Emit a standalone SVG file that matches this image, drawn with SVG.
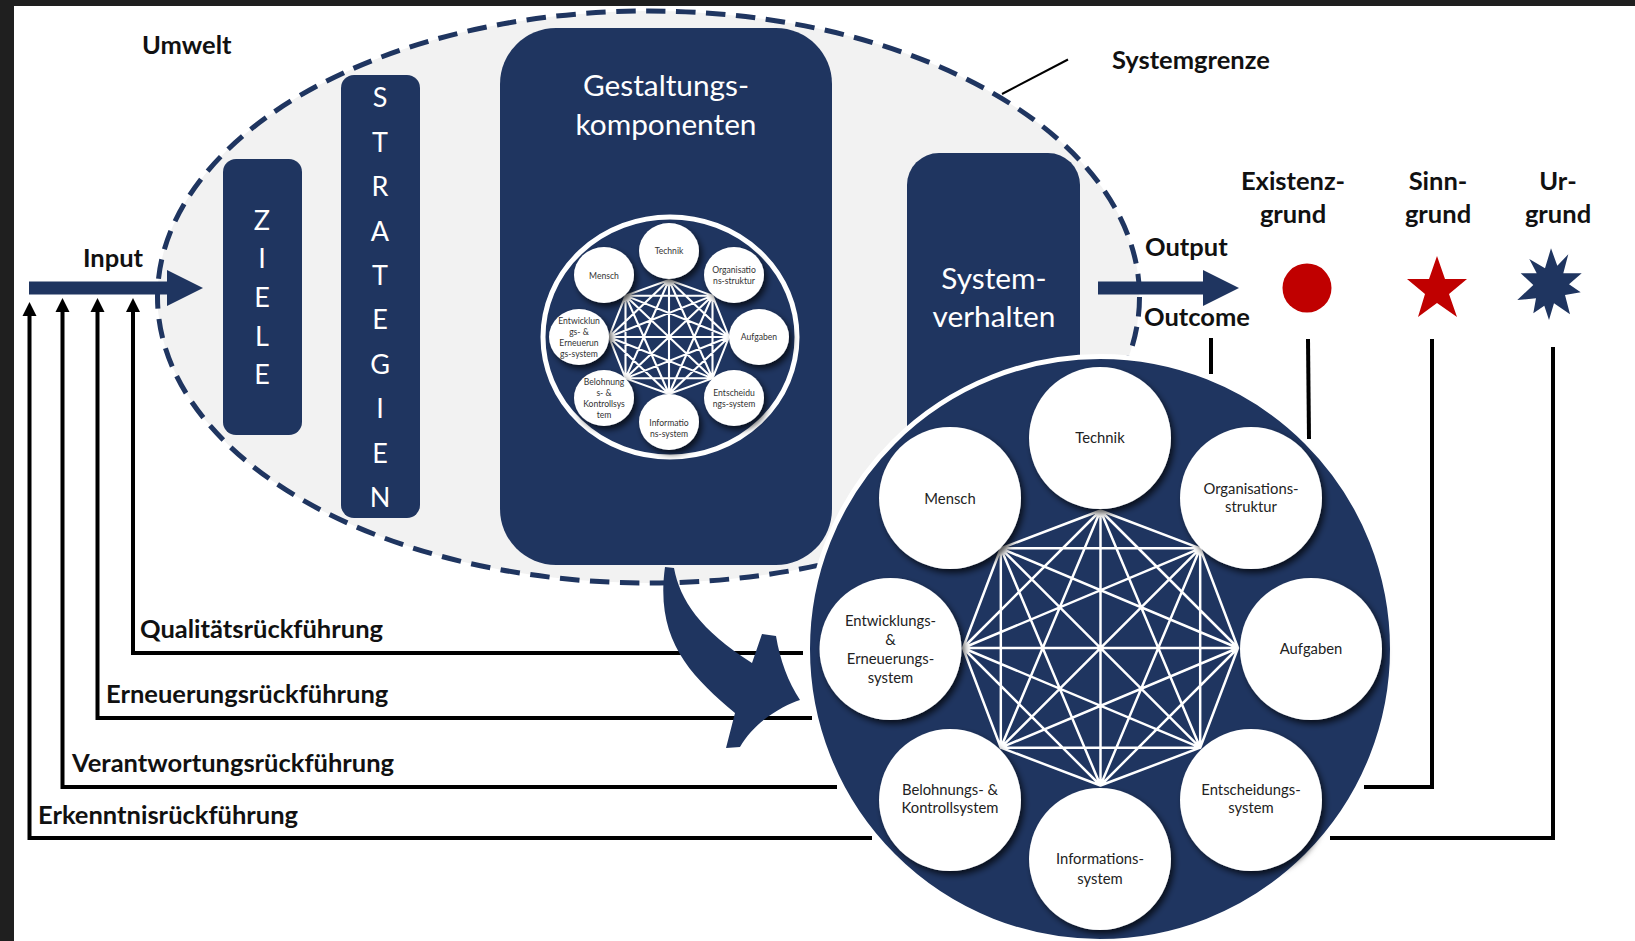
<svg xmlns="http://www.w3.org/2000/svg" width="1635" height="941" viewBox="0 0 1635 941">
<style>
.lbl{font-family:Lato,"Open Sans",sans-serif;font-weight:700;font-size:25.500px;fill:#111;}
.wt{font-family:Lato,"Open Sans",sans-serif;font-size:29.800px;fill:#fff;text-anchor:middle;}
.wl{font-family:Lato,"Open Sans",sans-serif;font-size:27px;fill:#fff;text-anchor:middle;}
.n{fill:#1f3560;}
.fb{fill:none;stroke:#000;stroke-width:4;}
.big{font-family:Lato,"Open Sans",sans-serif;font-size:14.800px;fill:#222;text-anchor:middle;}
.sm{font-family:Lato,"Open Sans",sans-serif;font-size:8.600px;fill:#333;text-anchor:middle;}
.c{fill:#fff;filter:url(#sh);}
.mesh{stroke:#fff;stroke-linecap:round;fill:none;}
.ctr{text-anchor:middle;}
</style>
<defs>
<filter id="sh" x="-20%" y="-20%" width="140%" height="140%"><feDropShadow dx="3" dy="4" stdDeviation="3" flood-color="#000" flood-opacity="0.7"/></filter>
<path id="mesh" d="M0-1L.725-.725M0-1L1 0M0-1L.725 .725M0-1L0 1M0-1L-.725 .725M0-1L-1 0M0-1L-.725-.725M.725-.725L1 0M.725-.725L.725 .725M.725-.725L0 1M.725-.725L-.725 .725M.725-.725L-1 0M.725-.725L-.725-.725M1 0L.725 .725M1 0L0 1M1 0L-.725 .725M1 0L-1 0M1 0L-.725-.725M.725 .725L0 1M.725 .725L-.725 .725M.725 .725L-1 0M.725 .725L-.725-.725M0 1L-.725 .725M0 1L-1 0M0 1L-.725-.725M-.725 .725L-1 0M-.725 .725L-.725-.725M-1 0L-.725-.725"/>
<path id="ah" d="M0 0L7 14H-7Z" fill="#000"/>
</defs>
<rect width="1635" height="941" fill="#fff"/>
<rect width="1635" height="6" fill="#1f1f1f"/>
<rect width="14" height="941" fill="#1f1f1f"/>
<g id="systemgrenze">
<ellipse cx="648.500" cy="297" rx="491" ry="286" fill="#f2f2f2" stroke="#1f3560" stroke-width="5" stroke-dasharray="19.500 10.500"/>
<line x1="1068" y1="59.500" x2="1002" y2="94" stroke="#000" stroke-width="2"/>
</g>
<g id="ziele"><rect class="n" x="223" y="159" width="79" height="276" rx="13"/>
<g class="wl"><text x="262" y="230">Z</text><text x="262" y="268">I</text><text x="262" y="307">E</text><text x="262" y="346">L</text><text x="262" y="384">E</text></g></g>
<g id="strategien"><rect class="n" x="341" y="75" width="79" height="443" rx="13"/>
<g class="wl"><text x="380" y="107">S</text><text x="380" y="152">T</text><text x="380" y="196">R</text><text x="380" y="241">A</text><text x="380" y="285">T</text><text x="380" y="329">E</text><text x="380" y="374">G</text><text x="380" y="418">I</text><text x="380" y="463">E</text><text x="380" y="507">N</text></g></g>
<g id="gestaltungskomponenten"><rect class="n" x="500" y="28" width="332" height="537" rx="56"/>
<text class="wt" x="666" y="96">Gestaltungs-</text><text class="wt" x="666" y="135">komponenten</text>
<ellipse cx="670" cy="337" rx="127" ry="120" fill="none" stroke="#fff" stroke-width="5"/>
<use href="#mesh" transform="translate(669 337) scale(60 57)" class="mesh" stroke-width="0.035"/>
<g id="mini-technik"><ellipse class="c" cx="669" cy="251" rx="30" ry="28"/><text class="sm" x="669" y="254">Technik</text></g>
<g id="mini-mensch"><ellipse class="c" cx="604" cy="275" rx="30" ry="28"/><text class="sm" x="604" y="279">Mensch</text></g>
<g id="mini-org"><ellipse class="c" cx="734" cy="275" rx="30" ry="28"/><text class="sm" x="734" y="273">Organisatio</text><text class="sm" x="734" y="284">ns-struktur</text></g>
<g id="mini-aufgaben"><ellipse class="c" cx="759" cy="337" rx="30" ry="28"/><text class="sm" x="759" y="340">Aufgaben</text></g>
<g id="mini-entscheidung"><ellipse class="c" cx="734" cy="398" rx="30" ry="28"/><text class="sm" x="734" y="396">Entscheidu</text><text class="sm" x="734" y="407">ngs-system</text></g>
<g id="mini-information"><ellipse class="c" cx="669" cy="422" rx="30" ry="28"/><text class="sm" x="669" y="426">Informatio</text><text class="sm" x="669" y="437">ns-system</text></g>
<g id="mini-belohnung"><ellipse class="c" cx="604" cy="398" rx="30" ry="28"/><text class="sm" x="604" y="385">Belohnung</text><text class="sm" x="604" y="396">s- &amp;</text><text class="sm" x="604" y="407">Kontrollsys</text><text class="sm" x="604" y="418">tem</text></g>
<g id="mini-entwicklung"><ellipse class="c" cx="579" cy="337" rx="30" ry="28"/><text class="sm" x="579" y="324">Entwicklun</text><text class="sm" x="579" y="335">gs- &amp;</text><text class="sm" x="579" y="346">Erneuerun</text><text class="sm" x="579" y="357">gs-system</text></g>
</g>
<g id="systemverhalten"><path class="n" d="M907 440V185a32 32 0 0 1 32-32H1048a32 32 0 0 1 32 32V440Z"/>
<text class="wt" x="994" y="289">System-</text><text class="wt" x="994" y="327">verhalten</text></g>
<g id="connectors">
<path class="n" d="M29 281.500H167V270L203 288L167 306V294.500H29Z"/>
<path class="n" d="M1098 281.500H1203V270L1239 288L1203 306V294.500H1098Z"/>
<path class="fb" d="M29.500 312V838H872"/>
<path class="fb" d="M62.500 310V787H837"/>
<path class="fb" d="M97.500 310V718H812"/>
<path class="fb" d="M133 310V653H803"/>
<use href="#ah" x="29.500" y="302"/>
<use href="#ah" x="62.500" y="298"/>
<use href="#ah" x="97.500" y="298"/>
<use href="#ah" x="133" y="298"/>
<path class="fb" d="M1211 338V374"/>
<path class="fb" d="M1308 339L1309 439"/>
<path class="fb" d="M1432 339V787H1364"/>
<path class="fb" d="M1553 347V838H1330"/>
<path class="n" d="M665 567L674 568C680 600 700 630 752 663L762 634L776 636C780 660 788 682 800 700C785 705 755 720 740 747L726 748L735 713C690 675 655 640 665 567Z"/>
</g>
<g id="gestaltung-detail">
<circle cx="1100" cy="649" r="292.500" fill="#1f3560" stroke="#fff" stroke-width="5"/>
<use href="#mesh" transform="translate(1100.500 648) scale(137.500 137.500)" class="mesh" stroke-width="0.018"/>
<g id="technik"><circle class="c" cx="1100" cy="438" r="71"/><text class="big" x="1100" y="443">Technik</text></g>
<g id="mensch"><circle class="c" cx="950" cy="498" r="71"/><text class="big" x="950" y="504">Mensch</text></g>
<g id="organisationsstruktur"><circle class="c" cx="1251" cy="498" r="71"/><text class="big" x="1251" y="494">Organisations-</text><text class="big" x="1251" y="512">struktur</text></g>
<g id="aufgaben"><circle class="c" cx="1311" cy="649" r="71"/><text class="big" x="1311" y="654">Aufgaben</text></g>
<g id="entscheidungssystem"><circle class="c" cx="1251" cy="800" r="71"/><text class="big" x="1251" y="795">Entscheidungs-</text><text class="big" x="1251" y="813">system</text></g>
<g id="informationssystem"><circle class="c" cx="1100" cy="859" r="71"/><text class="big" x="1100" y="864">Informations-</text><text class="big" x="1100" y="884">system</text></g>
<g id="belohnung"><circle class="c" cx="950" cy="800" r="71"/><text class="big" x="950" y="795">Belohnungs- &amp;</text><text class="big" x="950" y="813">Kontrollsystem</text></g>
<g id="entwicklung"><circle class="c" cx="890.500" cy="649" r="71"/><text class="big" x="890.500" y="626">Entwicklungs-</text><text class="big" x="890.500" y="645">&amp;</text><text class="big" x="890.500" y="664">Erneuerungs-</text><text class="big" x="890.500" y="683">system</text></g>
</g>
<g id="labels">
<text class="lbl" x="142" y="54">Umwelt</text>
<text class="lbl" x="1112" y="69">Systemgrenze</text>
<text class="lbl" x="83" y="267">Input</text>
<text class="lbl" x="1145" y="256">Output</text>
<text class="lbl" x="1144" y="326">Outcome</text>
<text class="lbl ctr" x="1293" y="190">Existenz-</text><text class="lbl ctr" x="1293" y="223">grund</text>
<text class="lbl ctr" x="1438" y="190">Sinn-</text><text class="lbl ctr" x="1438" y="223">grund</text>
<text class="lbl ctr" x="1558" y="190">Ur-</text><text class="lbl ctr" x="1558" y="223">grund</text>
<text class="lbl" x="140" y="638">Qualitätsrückführung</text>
<text class="lbl" x="106" y="703">Erneuerungsrückführung</text>
<text class="lbl" x="72" y="772">Verantwortungsrückführung</text>
<text class="lbl" x="38" y="824">Erkenntnisrückführung</text>
</g>
<g id="symbols">
<ellipse cx="1307" cy="288" rx="24.500" ry="24.500" fill="#c00000"/>
<path fill="#c00000" d="M1437 256L1445 279L1467 279L1449 294L1457 317L1437 303L1418 317L1425 294L1407 279L1429 279Z"/>
<path class="n" d="M1551 248.300L1557.300 265.700L1568.300 254.300L1563.300 273.300L1581.700 273.300L1569 284.300L1580.700 292.300L1565 295L1570 314.300L1554 303.300L1549 320L1544.300 305.700L1533.300 313.300L1536 298.300L1517.300 300L1533.300 285L1520.700 273.300L1536.700 273.300L1529.300 259L1545 268.300Z"/>
</g>
</svg>
